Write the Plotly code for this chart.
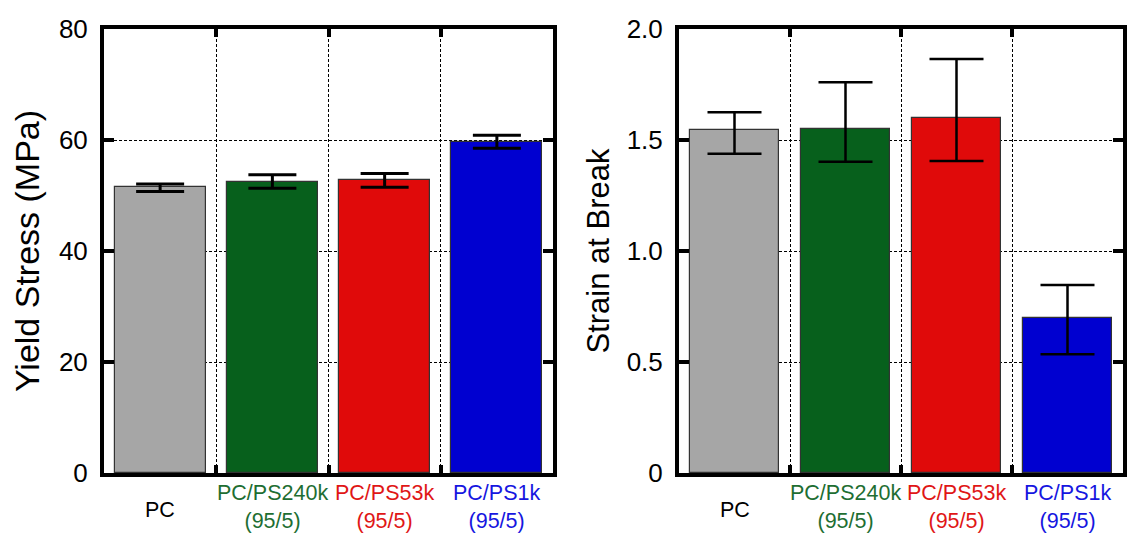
import plotly.graph_objects as go

categories = ["PC", "PC/PS240k", "PC/PS53k", "PC/PS1k"]
sublabels = ["", "(95/5)", "(95/5)", "(95/5)"]
bar_colors = ["#a6a6a6", "#07601c", "#e00a0a", "#0000d0"]
label_colors = ["#000000", "#1e6e32", "#e01616", "#1616e0"]

yield_stress = [51.5, 52.5, 52.8, 59.7]
yield_err_plus = [0.55, 1.25, 1.15, 1.15]
yield_err_minus = [0.8, 1.2, 1.3, 1.2]

strain = [1.545, 1.55, 1.60, 0.697]
strain_err_plus = [0.08, 0.21, 0.265, 0.15]
strain_err_minus = [0.107, 0.148, 0.195, 0.162]

y1_ticks = [0, 20, 40, 60, 80]
y2_ticks = [0, 0.5, 1.0, 1.5, 2.0]
y2_ticktext = ["0", "0.5", "1.0", "1.5", "2.0"]

FONT = "Liberation Sans, Arial, sans-serif"
W, H = 1128, 536
xdom1 = [104 / W, 553 / W]
xdom2 = [679 / W, 1123 / W]
ydom = [1 - 473 / H, 1 - 29 / H]

xs = list(range(len(categories)))
bounds = [i + 0.5 for i in range(len(categories) - 1)]

fig = go.Figure()
fig.add_trace(go.Bar(
    x=xs, y=yield_stress, width=0.81,
    marker=dict(color=bar_colors, line=dict(color="#333333", width=1.2)),
    error_y=dict(type="data", symmetric=False, array=yield_err_plus,
                 arrayminus=yield_err_minus, color="black", thickness=3, width=24),
    xaxis="x", yaxis="y", showlegend=False))
fig.add_trace(go.Bar(
    x=xs, y=strain, width=0.81,
    marker=dict(color=bar_colors, line=dict(color="#333333", width=1.2)),
    error_y=dict(type="data", symmetric=False, array=strain_err_plus,
                 arrayminus=strain_err_minus, color="black", thickness=2.5, width=27),
    xaxis="x2", yaxis="y2", showlegend=False))

xaxis_common = dict(
    range=[-0.5, len(categories) - 0.5],
    tickvals=bounds, showticklabels=False,
    ticks="inside", ticklen=8, tickwidth=4, tickcolor="black",
    showgrid=True, gridcolor="black", gridwidth=1, griddash="3px,2px",
    showline=True, linecolor="black", linewidth=4, mirror="allticks",
    zeroline=False, automargin=False,
)
yaxis_common = dict(
    ticks="inside", ticklen=10, tickwidth=4, tickcolor="black",
    showgrid=True, gridcolor="black", gridwidth=1, griddash="3px,2px",
    showline=True, linecolor="black", linewidth=4, mirror="allticks",
    zeroline=False, tickfont=dict(family=FONT, size=26, color="black"),
    ticklabelstandoff=7, automargin=False,
)

fig.update_layout(
    width=W, height=H,
    margin=dict(l=0, r=0, t=0, b=0, autoexpand=False),
    paper_bgcolor="white", plot_bgcolor="white",
    font=dict(family=FONT, color="black"),
    bargap=0,
    xaxis=dict(domain=xdom1, anchor="y", **xaxis_common),
    xaxis2=dict(domain=xdom2, anchor="y2", **xaxis_common),
    yaxis=dict(domain=ydom, anchor="x", range=[0, 80], tickvals=y1_ticks,
               title=dict(text="Yield Stress (MPa)", font=dict(family=FONT, size=34), standoff=10),
               **yaxis_common),
    yaxis2=dict(domain=ydom, anchor="x2", range=[0, 2.0], tickvals=y2_ticks,
                ticktext=y2_ticktext,
                title=dict(text="Strain at Break", font=dict(family=FONT, size=31), standoff=9),
                **yaxis_common),
)

for xref in ["x", "x2"]:
    for i, (cat, sub, col) in enumerate(zip(categories, sublabels, label_colors)):
        text = cat if not sub else f"{cat}<br>{sub}"
        yc = 510 if not sub else 507
        fig.add_annotation(x=i, xref=xref, y=1 - yc / H, yref="paper",
                           text=text, showarrow=False, xanchor="center", yanchor="middle",
                           font=dict(family=FONT, size=21.5, color=col))

fig.write_html("out.html")
